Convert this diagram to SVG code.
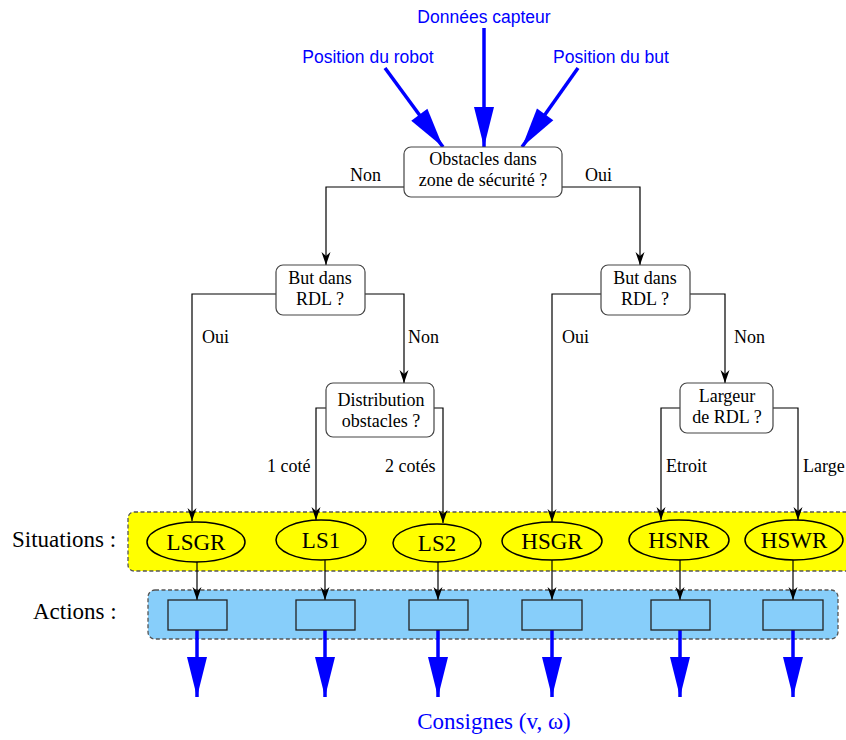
<svg xmlns="http://www.w3.org/2000/svg" width="846" height="740" viewBox="0 0 846 740">
<defs>
<marker id="ah" markerWidth="14" markerHeight="10" viewBox="-13 -5 14 10" refX="0" refY="0" orient="auto" markerUnits="userSpaceOnUse">
<path d="M0,0 L-13,-4.5 L-9,0 L-13,4.5 Z" fill="#000"/>
</marker>
<marker id="bh" markerWidth="42" markerHeight="22" viewBox="-40 -11 41 22" refX="0" refY="0" orient="auto" markerUnits="userSpaceOnUse">
<path d="M0,0 L-40,-10 L-40,10 Z" fill="#0000ff"/>
</marker>
</defs>
<style>
.q{fill:#fff;stroke:#444;stroke-width:1.2}
.t{font-family:"Liberation Serif","Times New Roman",serif;font-size:18px;fill:#000;text-anchor:middle}
.lb{font-family:"Liberation Serif","Times New Roman",serif;font-size:18px;fill:#000}
.bl{font-family:"Liberation Sans",Arial,sans-serif;font-size:17.5px;fill:#0000ff;text-anchor:middle}
.el{fill:#ffff00;stroke:#000;stroke-width:1.5}
.et{font-family:"Liberation Serif","Times New Roman",serif;font-size:23px;fill:#000;text-anchor:middle}
.ab{fill:#87cefa;stroke:#222;stroke-width:1.3}
.c{fill:none;stroke:#000;stroke-width:1.2}
.bc{fill:none;stroke:#0000ff;stroke-width:3.5}
.big{font-family:"Liberation Serif","Times New Roman",serif;font-size:23px;fill:#000}
</style>
<rect x="128" y="512" width="730" height="59" rx="6" fill="#ffff00" stroke="#555" stroke-width="1.3" stroke-dasharray="4,2.5"/>
<rect x="148" y="590" width="690" height="49" rx="7" fill="#87cefa" stroke="#555" stroke-width="1.3" stroke-dasharray="4,2.5"/>
<text class="big" x="12" y="547">Situations :</text>
<text class="big" x="33" y="619">Actions :</text>
<g id="inputs">
<text class="bl" x="484" y="23">Données capteur</text>
<text class="bl" x="368" y="63">Position du robot</text>
<text class="bl" x="611" y="63">Position du but</text>
</g>
<g id="connectors">
<line class="bc" x1="484" y1="28" x2="484" y2="147" marker-end="url(#bh)"/>
<line class="bc" x1="385" y1="68" x2="443" y2="147" marker-end="url(#bh)"/>
<line class="bc" x1="578" y1="68" x2="522" y2="147" marker-end="url(#bh)"/>
<polyline class="c" points="404,187 326,187 326,265" marker-end="url(#ah)"/>
<polyline class="c" points="562,187 640,187 640,265" marker-end="url(#ah)"/>
<polyline class="c" points="276,294 192,294 192,521" marker-end="url(#ah)"/>
<polyline class="c" points="365,294 404,294 404,383" marker-end="url(#ah)"/>
<polyline class="c" points="601,294 552,294 552,522" marker-end="url(#ah)"/>
<polyline class="c" points="690,294 725,294 725,383" marker-end="url(#ah)"/>
<polyline class="c" points="326,408 316,408 316,520" marker-end="url(#ah)"/>
<polyline class="c" points="434,408 443,408 443,523" marker-end="url(#ah)"/>
<polyline class="c" points="680,408 661,408 661,520" marker-end="url(#ah)"/>
<polyline class="c" points="773,408 798,408 798,520" marker-end="url(#ah)"/>
<line class="c" x1="197" y1="562" x2="197" y2="600" marker-end="url(#ah)"/>
<line class="c" x1="325" y1="560" x2="325" y2="600" marker-end="url(#ah)"/>
<line class="c" x1="438" y1="562" x2="438" y2="600" marker-end="url(#ah)"/>
<line class="c" x1="552" y1="560" x2="552" y2="600" marker-end="url(#ah)"/>
<line class="c" x1="680" y1="560" x2="680" y2="600" marker-end="url(#ah)"/>
<line class="c" x1="793" y1="560" x2="793" y2="600" marker-end="url(#ah)"/>
<line class="bc" x1="197" y1="630" x2="197" y2="697" marker-end="url(#bh)"/>
<line class="bc" x1="325" y1="630" x2="325" y2="697" marker-end="url(#bh)"/>
<line class="bc" x1="438" y1="630" x2="438" y2="697" marker-end="url(#bh)"/>
<line class="bc" x1="552" y1="630" x2="552" y2="697" marker-end="url(#bh)"/>
<line class="bc" x1="680" y1="630" x2="680" y2="697" marker-end="url(#bh)"/>
<line class="bc" x1="793" y1="630" x2="793" y2="697" marker-end="url(#bh)"/>
<text class="lb" x="350" y="181">Non</text>
<text class="lb" x="585" y="181">Oui</text>
<text class="lb" x="202" y="343">Oui</text>
<text class="lb" x="408" y="343">Non</text>
<text class="lb" x="562" y="343">Oui</text>
<text class="lb" x="734" y="343">Non</text>
<text class="lb" x="267" y="472">1 coté</text>
<text class="lb" x="385" y="472">2 cotés</text>
<text class="lb" x="666" y="472">Etroit</text>
<text class="lb" x="803" y="472">Large</text>
</g>
<g id="q-obstacles">
<rect class="q" x="404" y="147" width="158" height="50" rx="7"/>
<text class="t" x="483" y="165">Obstacles dans</text>
<text class="t" x="483" y="186">zone de sécurité ?</text>
</g>
<g id="q-but-left">
<rect class="q" x="276" y="265" width="89" height="50" rx="7"/>
<text class="t" x="320" y="284">But dans</text>
<text class="t" x="320" y="305">RDL ?</text>
</g>
<g id="q-but-right">
<rect class="q" x="601" y="265" width="89" height="50" rx="7"/>
<text class="t" x="645" y="284">But dans</text>
<text class="t" x="645" y="305">RDL ?</text>
</g>
<g id="q-distribution">
<rect class="q" x="326" y="383" width="108" height="54" rx="7"/>
<text class="t" x="381" y="406">Distribution</text>
<text class="t" x="381" y="427">obstacles ?</text>
</g>
<g id="q-largeur">
<rect class="q" x="680" y="383" width="93" height="50" rx="7"/>
<text class="t" x="727" y="402">Largeur</text>
<text class="t" x="727" y="423">de RDL ?</text>
</g>
<g id="s-lsgr"><ellipse class="el" cx="196" cy="542" rx="49" ry="20"/><text class="et" x="196" y="550">LSGR</text></g>
<g id="s-ls1"><ellipse class="el" cx="321" cy="540" rx="45" ry="20"/><text class="et" x="321" y="548">LS1</text></g>
<g id="s-ls2"><ellipse class="el" cx="437" cy="543" rx="44" ry="19"/><text class="et" x="437" y="551">LS2</text></g>
<g id="s-hsgr"><ellipse class="el" cx="552" cy="541" rx="50" ry="19"/><text class="et" x="552" y="549">HSGR</text></g>
<g id="s-hsnr"><ellipse class="el" cx="679" cy="540" rx="50" ry="20"/><text class="et" x="679" y="548">HSNR</text></g>
<g id="s-hswr"><ellipse class="el" cx="794" cy="540" rx="49" ry="20"/><text class="et" x="794" y="548">HSWR</text></g>
<g id="a-1"><rect class="ab" x="168" y="600" width="59" height="30"/></g>
<g id="a-2"><rect class="ab" x="296" y="600" width="59" height="30"/></g>
<g id="a-3"><rect class="ab" x="409" y="600" width="59" height="30"/></g>
<g id="a-4"><rect class="ab" x="522" y="600" width="60" height="30"/></g>
<g id="a-5"><rect class="ab" x="651" y="600" width="59" height="30"/></g>
<g id="a-6"><rect class="ab" x="763" y="600" width="60" height="30"/></g>
<text x="494" y="729" font-family="'Liberation Serif','Times New Roman',serif" font-size="23" fill="#0000ff" text-anchor="middle">Consignes (v, ω)</text>
</svg>
